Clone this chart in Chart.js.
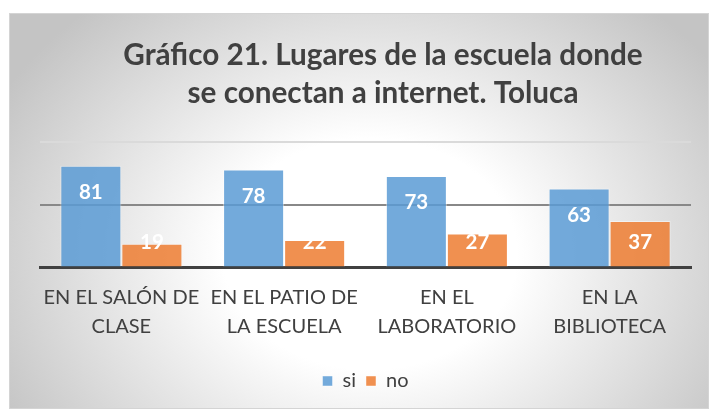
<!DOCTYPE html>
<html><head><meta charset="utf-8">
<script src="https://cdn.jsdelivr.net/npm/chart.js@4/dist/chart.umd.min.js"></script>
<style>
html,body{margin:0;padding:0;background:#fff;}
#frame{position:absolute;left:9px;top:13px;width:700px;height:396px;box-sizing:border-box;border:1px solid #d4d4d4;
background:radial-gradient(ellipse 420px 330px at 360px 240px,#ffffff 35%,#c4c4c4 100%);}
#wrap{position:absolute;left:0;top:0;width:709px;height:411px;}
</style></head>
<body>
<div id="frame"></div>
<div id="wrap"><canvas id="c" width="709" height="411"></canvas></div>
<script>
const titleLines = ["Gráfico 21. Lugares de la escuela donde", "se conectan a internet. Toluca"];
const categories = [["EN EL SALÓN DE","CLASE"],["EN EL PATIO DE","LA ESCUELA"],["EN EL","LABORATORIO"],["EN LA","BIBLIOTECA"]];
const siValues = [81, 78, 73, 63];
const noValues = [19, 22, 27, 37];
const yTicks = [0, 50, 100];

const FONT = "Lato, 'Open Sans', sans-serif";

const titlePlugin = {
  id: 'customTitle',
  afterDraw(chart){
    const ctx = chart.ctx;
    ctx.save();
    ctx.font = "bold 29.7px " + FONT;
    ctx.fillStyle = "#404040";
    ctx.textAlign = "center";
    ctx.textBaseline = "middle";
    ctx.fillText(titleLines[0], 383, 55);
    ctx.fillText(titleLines[1], 383, 93);
    ctx.restore();
  }
};

const labelPlugin = {
  id: 'barLabels',
  afterDatasetsDraw(chart){
    const ctx = chart.ctx;
    ctx.save();
    ctx.font = "bold 20.5px " + FONT;
    ctx.fillStyle = "#ffffff";
    ctx.textAlign = "center";
    ctx.textBaseline = "middle";
    chart.data.datasets.forEach((ds, di) => {
      const meta = chart.getDatasetMeta(di);
      meta.data.forEach((bar, i) => {
        const y = Math.min(bar.y + 27, bar.base - 24);
        ctx.fillText(String(ds.data[i]), bar.x, y);
      });
    });
    ctx.restore();
  }
};

new Chart(document.getElementById('c'), {
  type: 'bar',
  data: {
    labels: categories,
    datasets: [
      {label: 'si', data: siValues, backgroundColor: 'rgba(91,155,213,0.85)', borderColor: 'rgba(255,255,255,0.45)', borderWidth: 1},
      {label: 'no', data: noValues, backgroundColor: 'rgba(237,125,49,0.85)', borderColor: 'rgba(255,255,255,0.45)', borderWidth: 1}
    ]
  },
  options: {
    responsive: false,
    animation: false,
    layout: {padding: {left: 40, right: 18, top: 142, bottom: 10}},
    datasets: {bar: {categoryPercentage: 0.75, barPercentage: 1.0}},
    plugins: {
      title: {display: false},
      tooltip: {enabled: false},
      legend: {
        position: 'bottom',
        labels: {boxWidth: 10, boxHeight: 10, padding: 10, color: '#404040', font: {family: FONT, size: 20}}
      }
    },
    scales: {
      x: {
        z: 1,
        grid: {drawOnChartArea: false, drawTicks: false},
        border: {display: true, color: '#404040', width: 3},
        ticks: {color: '#404040', padding: 16, font: {family: FONT, size: 20, lineHeight: 1.45}, maxRotation: 0, autoSkip: false},
        afterFit: s => { s.height = 93.5; }
      },
      y: {
        min: 0, max: 100,
        afterBuildTicks: s => { s.ticks = yTicks.map(v => ({value: v})); },
        ticks: {display: false},
        border: {display: false},
        grid: {
          drawTicks: false,
          lineWidth: 2,
          color: c => c.tick && c.tick.value === 50 ? '#888888' : (c.tick && c.tick.value === 100 ? '#dadada' : 'rgba(0,0,0,0)')
        },
        afterFit: s => { s.width = 0; }
      }
    }
  },
  plugins: [titlePlugin, labelPlugin]
});
</script>
</body></html>
